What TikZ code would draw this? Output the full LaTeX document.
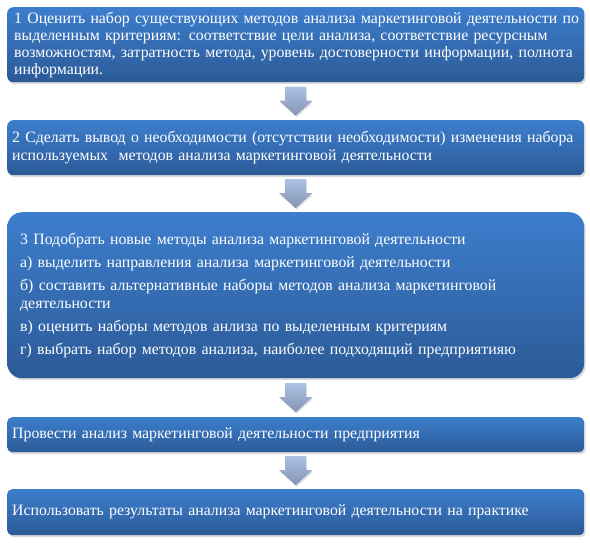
\documentclass[tikz,border=0pt]{standalone}
\usepackage{fontspec}
\setmainfont{Liberation Serif}
\usetikzlibrary{shadows,calc}
\definecolor{boxtop}{HTML}{3D7ECD}
\definecolor{boxbot}{HTML}{2C5A97}
\definecolor{arrtop}{HTML}{AAC2E4}
\definecolor{arrbot}{HTML}{8594B3}
\tikzset{
  stepbox/.style={rectangle, rounded corners=6pt, top color=boxtop, bottom color=boxbot,
    text=white, anchor=north west, minimum width=577pt, align=left, inner ysep=2pt,
    font=\fontsize{15.8}{17}\selectfont,
    drop shadow={opacity=0.3, shadow xshift=1.5pt, shadow yshift=-2pt}},
  flowarr/.style={top color=arrtop, bottom color=arrbot,
    drop shadow={opacity=0.25, shadow xshift=1pt, shadow yshift=-1.5pt}}
}
\newcommand{\flowarrow}[3]{%
  \coordinate (#3) at ($(#1.south)!0.5!(#2.north)$);
  \shade[flowarr] ($(#3)+(-10.5,-14.5)$) -- ++(21,0) -- ++(0,14) -- ++(6,0)
    -- ($(#3)+(0,14.5)$) -- ($(#3)+(-16.5,-0.5)$) -- ++(6,0) -- cycle;
}
\begin{document}
\begin{tikzpicture}[x=1pt,y=-1pt]
\useasboundingbox (0,0) rectangle (590,542);
\node[stepbox, minimum height=75pt, inner xsep=7pt, text width=563pt] (b1) at (7,7)
 {\mbox{1 Оценить набор существующих методов анализа маркетинговой деятельности по}\\
  \mbox{выделенным критериям: соответствие цели анализа, соответствие ресурсным}\\
  \mbox{возможностям, затратность метода, уровень достоверности информации, полнота}\\
  информации.};
\node[stepbox, minimum height=55pt, inner xsep=5pt, text width=567pt, font=\fontsize{15.8}{18}\selectfont] (b2) at (7,120)
 {\mbox{2 Сделать вывод о необходимости (отсутствии необходимости) изменения набора}\\
  используемых\ \ методов анализа маркетинговой деятельности};
\node[stepbox, rounded corners=15pt, minimum height=166pt, inner xsep=13pt, text width=551pt, font=\fontsize{15.8}{18}\selectfont] (b3) at (7,212)
 {3 Подобрать новые методы анализа маркетинговой деятельности\\[5pt]
  а) выделить направления анализа маркетинговой деятельности\\[5pt]
  \mbox{б) составить альтернативные наборы методов анализа маркетинговой}\\
  деятельности\\[5pt]
  в) оценить наборы методов анлиза по выделенным критериям\\[5pt]
  г) выбрать набор методов анализа, наиболее подходящий предприятияю};
\node[stepbox, rounded corners=5pt, minimum height=35pt, inner xsep=5pt, text width=567pt] (b4) at (7,417)
 {Провести анализ маркетинговой деятельности предприятия};
\node[stepbox, rounded corners=5pt, minimum height=46pt, inner xsep=5pt, text width=567pt] (b5) at (7,489)
 {Использовать результаты анализа маркетинговой деятельности на практике};
\flowarrow{b1}{b2}{m1}
\flowarrow{b2}{b3}{m2}
\flowarrow{b3}{b4}{m3}
\flowarrow{b4}{b5}{m4}
\end{tikzpicture}
\end{document}
